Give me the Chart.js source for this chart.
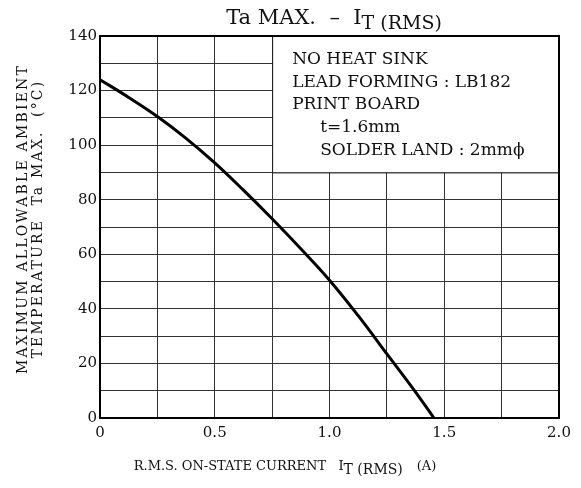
<!DOCTYPE html>
<html>
<head>
<meta charset="utf-8">
<script src="https://cdn.jsdelivr.net/npm/chart.js@4/dist/chart.umd.min.js"></script>
<style>
  body { margin: 0; background: #fff; }
</style>
</head>
<body>
<canvas id="taMaxChart" width="581" height="488"></canvas>
<script>
// Ta MAX vs IT(RMS) curve
const currentA = [0, 0.125, 0.25, 0.375, 0.5, 0.625, 0.75, 0.875, 1.0, 1.125, 1.25, 1.375, 1.455];
const taMax = [124, 117.5, 110.5, 102.5, 93.5, 83.5, 73, 62, 50.5, 37.5, 23.5, 9.5, 0];

const xTickLabels = { 0: '0', 0.5: '0.5', 1: '1.0', 1.5: '1.5', 2: '2.0' };
const yTickLabels = [0, 20, 40, 60, 80, 100, 120, 140];

const noteLines = [
  { text: 'NO HEAT SINK', indent: 0 },
  { text: 'LEAD FORMING : LB182', indent: 0 },
  { text: 'PRINT BOARD', indent: 0 },
  { text: 't=1.6mm', indent: 1 },
  { text: 'SOLDER LAND : 2mm\u03d5', indent: 1 }
];

const SERIF = '"DejaVu Serif", "Liberation Serif", serif';

// draws text runs with subscripts
function drawRuns(ctx, runs, x, y, align) {
  let total = 0;
  runs.forEach(r => { ctx.font = r.font; total += ctx.measureText(r.t).width + (r.gap || 0); });
  let cx = align === 'center' ? x - total / 2 : x;
  ctx.textAlign = 'left';
  ctx.textBaseline = 'alphabetic';
  runs.forEach(r => {
    ctx.font = r.font;
    ctx.fillText(r.t, cx, y + (r.dy || 0));
    cx += ctx.measureText(r.t).width + (r.gap || 0);
  });
}

const decorations = {
  id: 'decorations',
  afterDraw(chart) {
    const ctx = chart.ctx;
    const xs = chart.scales.x, ys = chart.scales.y;
    const area = chart.chartArea;
    ctx.save();
    ctx.fillStyle = '#111';

    // title
    drawRuns(ctx, [
      { t: 'Ta MAX.  \u2013  I', font: '21px ' + SERIF },
      { t: 'T (RMS)', font: '19px ' + SERIF, dy: 5 }
    ], 334, 24, 'center');

    // x axis title
    drawRuns(ctx, [
      { t: 'R.M.S. ON-STATE CURRENT   I', font: '13px ' + SERIF },
      { t: 'T (RMS)', font: '14px ' + SERIF, dy: 4, gap: 14 },
      { t: '(A)', font: '13px ' + SERIF }
    ], 285, 470, 'center');

    // y axis title, two rotated lines
    ctx.save();
    ctx.translate(27, 219);
    ctx.rotate(-Math.PI / 2);
    ctx.font = '14px ' + SERIF;
    ctx.letterSpacing = '2.2px';
    ctx.textAlign = 'center';
    ctx.fillText('MAXIMUM ALLOWABLE AMBIENT', 0, 0);
    ctx.fillText('TEMPERATURE  Ta MAX.  (\u00b0C)', 0, 15);
    ctx.restore();

    // note box, white over the grid
    const bx = xs.getPixelForValue(0.75), by = ys.getPixelForValue(90);
    ctx.fillStyle = '#fff';
    ctx.fillRect(bx + 1, area.top + 1, area.right - bx - 2, by - area.top - 1);
    ctx.strokeStyle = '#222';
    ctx.lineWidth = 1;
    ctx.beginPath();
    ctx.moveTo(bx + 0.5, area.top);
    ctx.lineTo(bx + 0.5, by + 0.5);
    ctx.lineTo(area.right, by + 0.5);
    ctx.stroke();
    ctx.fillStyle = '#111';
    ctx.font = '17px ' + SERIF;
    ctx.textAlign = 'left';
    ctx.textBaseline = 'alphabetic';
    noteLines.forEach((l, i) => {
      ctx.fillText(l.text, bx + 20 + l.indent * 28, area.top + 28 + i * 22.7);
    });

    // heavy frame
    ctx.strokeStyle = '#000';
    ctx.lineWidth = 2;
    ctx.strokeRect(area.left, area.top, area.right - area.left, area.bottom - area.top);
    ctx.restore();
  }
};

const ctx = document.getElementById('taMaxChart').getContext('2d');
const chart = new Chart(ctx, {
  type: 'scatter',
  data: {
    datasets: [{
      label: 'Ta MAX',
      data: currentA.map((x, i) => ({ x: x, y: taMax[i] })),
      showLine: true,
      borderColor: '#000',
      borderWidth: 3,
      pointRadius: 0,
      tension: 0.4,
      fill: false
    }]
  },
  options: {
    responsive: false,
    animation: false,
    layout: { padding: { left: 0, right: 22, top: 36, bottom: 0 } },
    plugins: {
      legend: { display: false },
      tooltip: { enabled: false }
    },
    scales: {
      x: {
        type: 'linear',
        min: 0,
        max: 2,
        afterFit: s => { s.height = 70; },
        ticks: {
          stepSize: 0.25,
          autoSkip: false,
          maxRotation: 0,
          padding: 6,
          color: '#111',
          font: { family: SERIF, size: 15 },
          callback: v => xTickLabels[v] !== undefined ? xTickLabels[v] : ''
        },
        grid: { color: '#333', lineWidth: 1, drawTicks: false },
        border: { display: false }
      },
      y: {
        min: 0,
        max: 140,
        afterFit: s => { s.width = 100; },
        ticks: {
          stepSize: 10,
          autoSkip: false,
          padding: 3,
          color: '#111',
          font: { family: SERIF, size: 15 },
          callback: v => yTickLabels.includes(v) ? String(v) : ''
        },
        grid: { color: '#333', lineWidth: 1, drawTicks: false },
        border: { display: false }
      }
    }
  },
  plugins: [decorations]
});
</script>
</body>
</html>
